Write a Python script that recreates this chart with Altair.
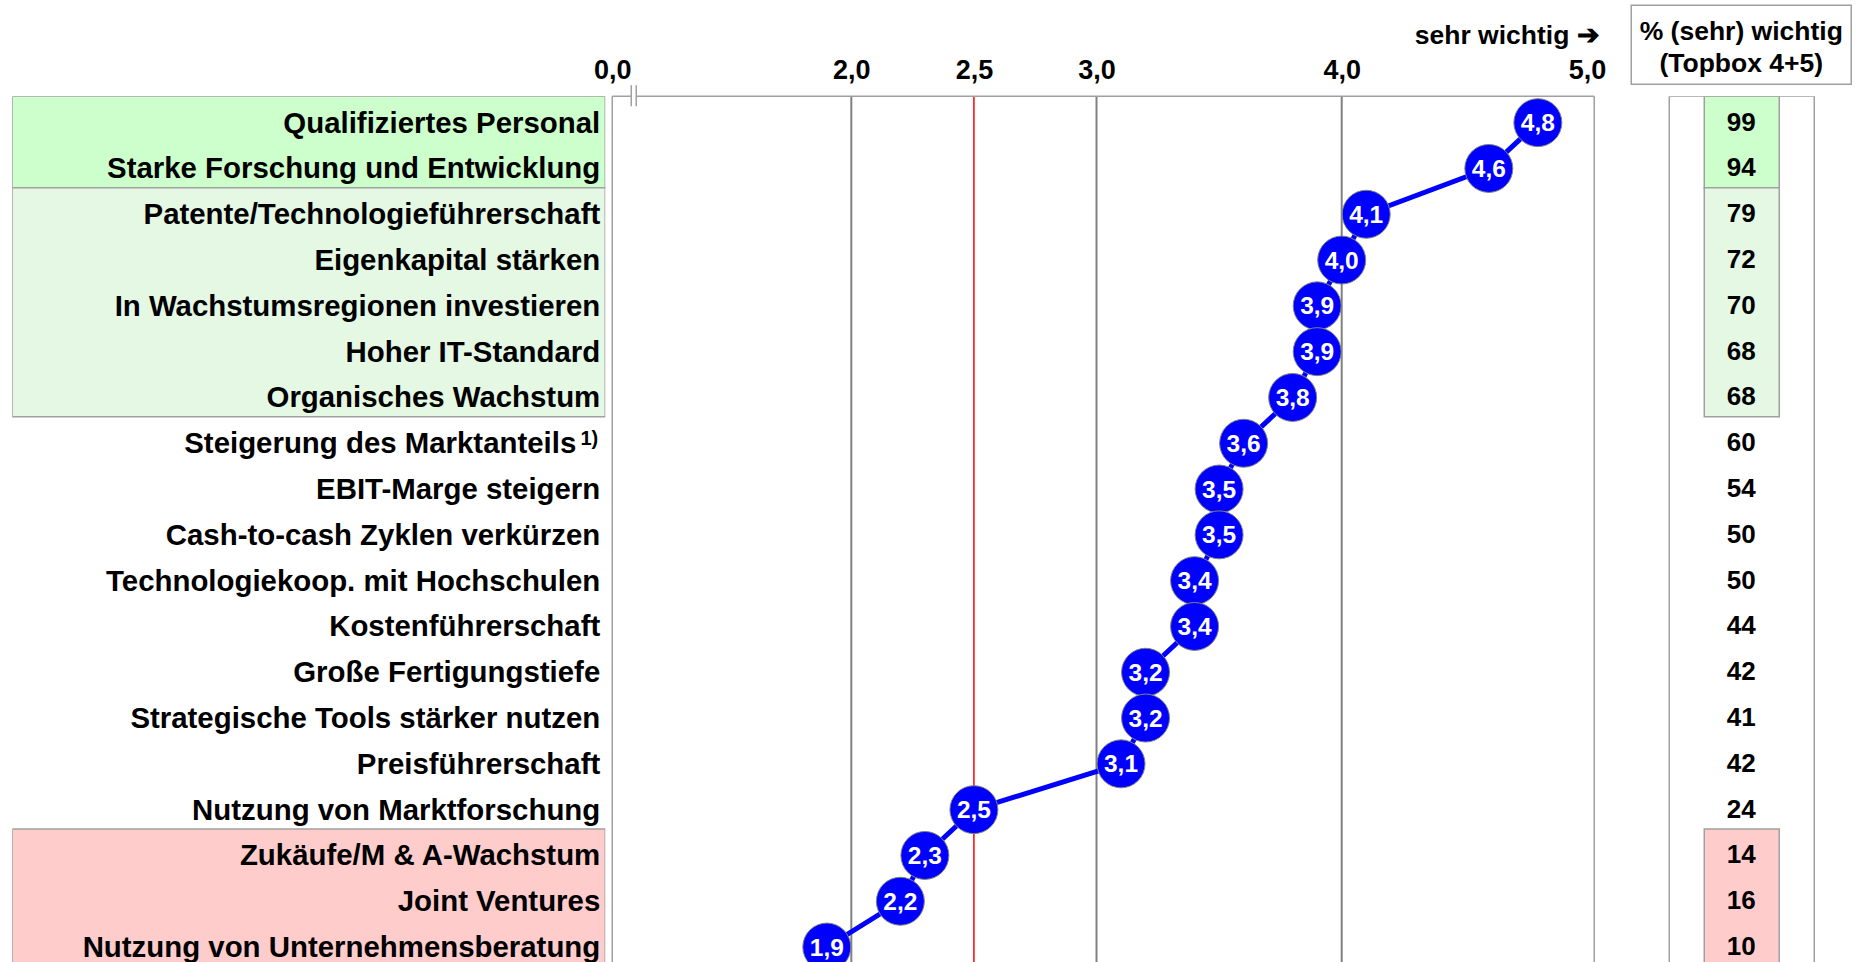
import altair as alt
import pandas as pd

# Strategy factors, ordered by mean importance (1 = unwichtig ... 5 = sehr wichtig)
labels = [
    "Qualifiziertes Personal",
    "Starke Forschung und Entwicklung",
    "Patente/Technologieführerschaft",
    "Eigenkapital stärken",
    "In Wachstumsregionen investieren",
    "Hoher IT-Standard",
    "Organisches Wachstum",
    "Steigerung des Marktanteils",
    "EBIT-Marge steigern",
    "Cash-to-cash Zyklen verkürzen",
    "Technologiekoop. mit Hochschulen",
    "Kostenführerschaft",
    "Große Fertigungstiefe",
    "Strategische Tools stärker nutzen",
    "Preisführerschaft",
    "Nutzung von Marktforschung",
    "Zukäufe/M & A-Wachstum",
    "Joint Ventures",
    "Nutzung von Unternehmensberatung",
]
footnotes = ["", "", "", "", "", "", "", "1)", "", "",
             "", "", "", "", "", "", "", "", ""]
mean_scores = [4.8, 4.6, 4.1, 4.0, 3.9, 3.9, 3.8, 3.6, 3.5, 3.5,
               3.4, 3.4, 3.2, 3.2, 3.1, 2.5, 2.3, 2.2, 1.9]
topbox_pct = [99, 94, 79, 72, 70, 68, 68, 60, 54, 50,
              50, 44, 42, 41, 42, 24, 14, 16, 10]

# highlighted row groups (first row, last row, fill colour)
group_first = [0, 2, 16]
group_last = [1, 6, 18]
group_fill = ["#CCFFCC", "#E4F8E4", "#FFCCCC"]

# axis layout: broken axis starting at "0,0", then 2..5
axis_min, axis_max = 1.025, 5.03
tick_values = [1.025, 2.0, 2.5, 3.0, 4.0, 5.0]
grid_values = [2.0, 3.0, 4.0]
threshold_value = [2.5]

FONT = "Liberation Sans"
GRAY = "#A0A0A0"
ROW_H = 45.8
ROW_SHIFT = 3.5          # row content sits slightly below the band centre
N = len(labels)
PLOT_H = 866
LABEL_W, PLOT_W, PCT_W = 593, 982, 250

rows = pd.DataFrame({
    "row": list(range(N)),
    "label": labels,
    "note": footnotes,
    "score": mean_scores,
    "pct": topbox_pct,
})
rows["score_txt"] = rows["score"].map(lambda v: f"{v:.1f}".replace(".", ","))

groups = pd.DataFrame({
    "y0": [f - 0.5 for f in group_first],
    "y1": [l + 0.5 for l in group_last],
    "fill": group_fill,
})
grid_df = pd.DataFrame({"v": grid_values})
thr_df = pd.DataFrame({"v": threshold_value})
one = pd.DataFrame({"k": [0]})

yscale = alt.Scale(domain=[-0.5, N - 0.5], range=[0, ROW_H * N], nice=False, zero=False)
xscale = alt.Scale(domain=[axis_min, axis_max], nice=False, zero=False)

# ---------- left panel: category labels with group boxes ----------
lab_boxes = alt.Chart(groups).mark_rect(stroke=GRAY, strokeWidth=1.5, clip=True).encode(
    x=alt.value(0), x2=alt.value(LABEL_W),
    y=alt.Y("y0:Q", scale=yscale, axis=None), y2="y1:Q",
    fill=alt.Fill("fill:N", scale=None),
)
label_style = dict(align="right", baseline="middle", font=FONT, fontWeight="bold",
                   fontSize=29.4, color="black", clip=True, dy=ROW_SHIFT + 1)
lab_plain = alt.Chart(rows).transform_filter("datum.note == ''").mark_text(**label_style).encode(
    x=alt.value(LABEL_W - 5),
    y=alt.Y("row:Q", scale=yscale, axis=None),
    text="label:N",
)
lab_noted = alt.Chart(rows).transform_filter("datum.note != ''").mark_text(**label_style).encode(
    x=alt.value(LABEL_W - 29),
    y=alt.Y("row:Q", scale=yscale, axis=None),
    text="label:N",
)
lab_sup = alt.Chart(rows).transform_filter("datum.note != ''").mark_text(
    align="right", baseline="middle", font=FONT, fontWeight="bold",
    fontSize=20, color="black", dy=ROW_SHIFT - 4,
).encode(
    x=alt.value(LABEL_W - 7),
    y=alt.Y("row:Q", scale=yscale, axis=None),
    text="note:N",
)
left = alt.layer(lab_boxes, lab_plain, lab_noted, lab_sup).properties(width=LABEL_W, height=PLOT_H)

# ---------- middle panel: mean importance profile ----------
xenc_axis = alt.Axis(
    orient="top", values=tick_values,
    labelExpr="datum.value < 1.5 ? '0,0' : replace(format(datum.value, '.1f'), '.', ',')",
    grid=False, ticks=False, domain=False, labelFlush=False, labelOverlap=False,
    labelBound=False, labelFont=FONT, labelFontSize=27, labelFontWeight="bold",
    labelColor="black", labelPadding=12,
    title="sehr wichtig ➔", titleFont=FONT, titleFontSize=26.5, titleFontWeight="bold",
    titleColor="black", titleX=PLOT_W + 5, titleY=-61, titleAlign="right",
    titleBaseline="middle", titleAnchor="end",
)

gridlines = alt.Chart(grid_df).mark_rule(color="#808080", strokeWidth=2, clip=True).encode(
    x=alt.X("v:Q", scale=xscale, axis=xenc_axis),
    y=alt.value(0), y2=alt.value(PLOT_H),
)
thr_line = alt.Chart(thr_df).mark_rule(color="#FF0000", strokeWidth=1.5, clip=True).encode(
    x=alt.X("v:Q", scale=xscale), y=alt.value(0), y2=alt.value(PLOT_H),
)
# plot frame with axis-break marker near the origin
frame_left = alt.Chart(one).mark_rule(color=GRAY, strokeWidth=1.5).encode(
    x=alt.value(0), y=alt.value(0), y2=alt.value(PLOT_H))
frame_right = alt.Chart(one).mark_rule(color=GRAY, strokeWidth=1.5).encode(
    x=alt.value(PLOT_W), y=alt.value(0), y2=alt.value(PLOT_H))
frame_top_a = alt.Chart(one).mark_rule(color=GRAY, strokeWidth=1.5).encode(
    x=alt.value(0), x2=alt.value(19), y=alt.value(0))
frame_top_b = alt.Chart(one).mark_rule(color=GRAY, strokeWidth=1.5).encode(
    x=alt.value(24), x2=alt.value(PLOT_W), y=alt.value(0))
break_a = alt.Chart(one).mark_rule(color=GRAY, strokeWidth=1.5).encode(
    x=alt.value(19), y=alt.value(-11), y2=alt.value(10))
break_b = alt.Chart(one).mark_rule(color=GRAY, strokeWidth=1.5).encode(
    x=alt.value(24), y=alt.value(-11), y2=alt.value(10))

profile = alt.Chart(rows).mark_line(
    color="#0000FF", strokeWidth=5, clip=True, yOffset=ROW_SHIFT,
).encode(
    x=alt.X("score:Q", scale=xscale),
    y=alt.Y("row:Q", scale=yscale, axis=None),
    order="row:Q",
)
bubbles = alt.Chart(rows).mark_circle(
    size=2300, color="#0000FF", opacity=1, stroke="#808080", strokeWidth=1,
    clip=True, yOffset=ROW_SHIFT,
).encode(
    x=alt.X("score:Q", scale=xscale),
    y=alt.Y("row:Q", scale=yscale, axis=None),
)
bubble_txt = alt.Chart(rows).mark_text(
    font=FONT, fontWeight="bold", fontSize=24.5, color="white",
    baseline="middle", align="center", clip=True, dy=ROW_SHIFT + 1.5,
).encode(
    x=alt.X("score:Q", scale=xscale),
    y=alt.Y("row:Q", scale=yscale, axis=None),
    text="score_txt:N",
)
middle = alt.layer(
    gridlines, thr_line, frame_left, frame_right, frame_top_a, frame_top_b,
    break_a, break_b, profile, bubbles, bubble_txt,
).properties(width=PLOT_W, height=PLOT_H)

# ---------- right panel: top-box percentages ----------
pct_outer = alt.Chart(one).mark_rect(fill="white", stroke=GRAY, strokeWidth=1.5, clip=True).encode(
    x=alt.value(68), x2=alt.value(213), y=alt.value(0), y2=alt.value(PLOT_H + 40))
pct_boxes = alt.Chart(groups).mark_rect(stroke=GRAY, strokeWidth=1.5, clip=True).encode(
    x=alt.value(103), x2=alt.value(178),
    y=alt.Y("y0:Q", scale=yscale, axis=None), y2="y1:Q",
    fill=alt.Fill("fill:N", scale=None),
)
pct_text = alt.Chart(rows).mark_text(
    font=FONT, fontWeight="bold", fontSize=26, color="black",
    baseline="middle", align="center", clip=True, dy=ROW_SHIFT,
).encode(
    x=alt.value(140),
    y=alt.Y("row:Q", scale=yscale, axis=None),
    text="pct:Q",
)
head_box = alt.Chart(one).mark_rect(fill="white", stroke=GRAY, strokeWidth=1.5).encode(
    x=alt.value(30), x2=alt.value(PCT_W), y=alt.value(-91), y2=alt.value(-12))
head_txt = alt.Chart(one).mark_text(
    font=FONT, fontWeight="bold", fontSize=26.5, color="black",
    baseline="middle", align="center", lineHeight=32,
).encode(
    x=alt.value(140), y=alt.value(-64),
    text=alt.value(["% (sehr) wichtig", "(Topbox 4+5)"]),
)
right = alt.layer(pct_outer, pct_boxes, pct_text, head_box, head_txt).properties(
    width=PCT_W, height=PLOT_H)

chart = alt.hconcat(left, middle, right, spacing=7, bounds="flush").properties(
    padding={"left": 12.25, "top": 4.25, "right": 5, "bottom": 0},
    background="white",
).configure(font=FONT, view=alt.ViewConfig(stroke=None))

chart.save("out.html", embed_options={"renderer": "svg", "actions": False})
